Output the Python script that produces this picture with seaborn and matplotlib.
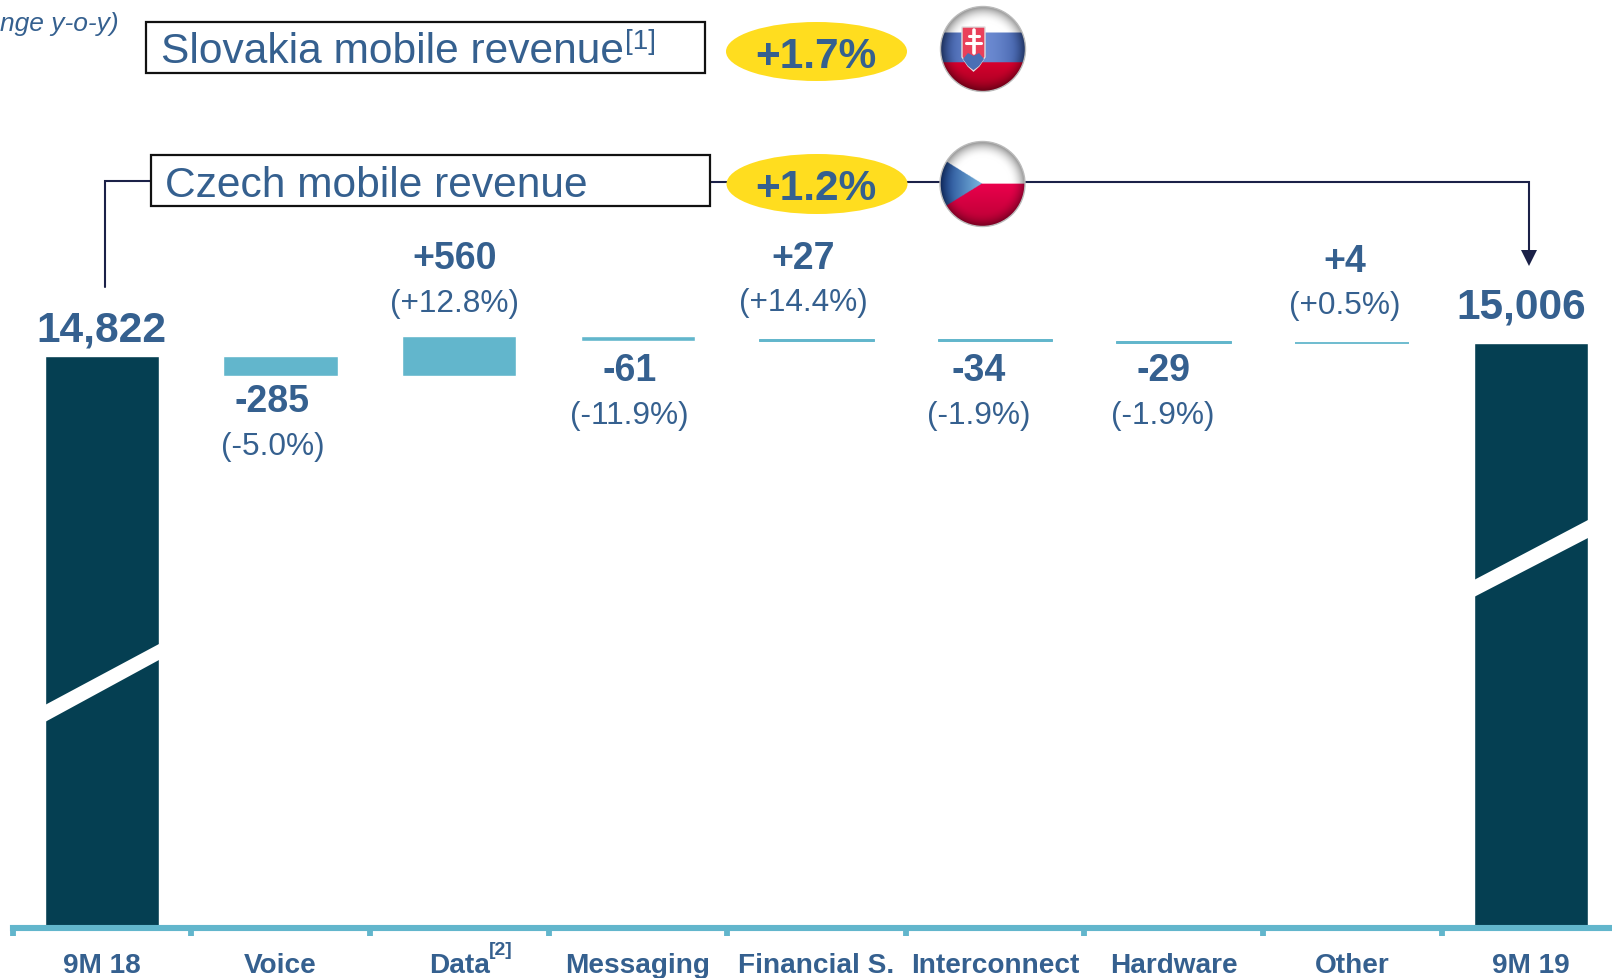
import numpy as np
import pandas as pd
import seaborn as sns
import matplotlib.pyplot as plt
from matplotlib.patches import Circle, Ellipse, Polygon, Rectangle

# data
categories = ["9M 18", "Voice", "Data", "Messaging", "Financial S.", "Interconnect", "Hardware", "Other", "9M 19"]
start_total = 14822
end_total = 15006
deltas = [-285, 560, -61, 27, -34, -29, 4]
delta_pct = ["(-5.0%)", "(+12.8%)", "(-11.9%)", "(+14.4%)", "(-1.9%)", "(-1.9%)", "(+0.5%)"]
delta_text = ["-285", "+560", "-61", "+27", "-34", "-29", "+4"]
# label centres in pixels: (value x, value y, pct y)
delta_pos = [(272.5, 399, 444), (454.5, 256, 301), (629.5, 368, 413), (803, 256, 300),
             (979, 368, 413), (1163, 368, 413), (1345, 259, 303)]

DARK = "#053F52"
LIGHT = "#62B6CC"
TXT = "#35608F"
NAVY = "#1B2148"
YELLOW = "#FFDD1F"

# waterfall table
bottoms, heights = [0], [start_total]
level = start_total
for d in deltas:
    bottoms.append(min(level, level + d))
    heights.append(abs(d))
    level += d
bottoms.append(0)
heights.append(end_total)
df = pd.DataFrame({"cat": categories, "h": heights, "b": bottoms})
bar_colors = [DARK] + [LIGHT] * 7 + [DARK]

sns.set_theme(style="white")
plt.rcParams["font.family"] = ["Liberation Sans", "DejaVu Sans"]

W, H = 1612, 979
base_px = 929
fig = plt.figure(figsize=(W / 100, H / 100), dpi=100)
ax = fig.add_axes([12.7 / W, 1 - base_px / H, (W - 12.7) / W, base_px / H])
sns.barplot(data=df, x="cat", y="h", bottom=df["b"], color=LIGHT, width=0.64, saturation=1, ax=ax)
for bar, c, h in zip(ax.patches, bar_colors, heights):
    bar.set_facecolor(c)
    if h < 40:
        # the smallest deltas would fade out, keep them as solid hairlines
        bar.set_edgecolor(c)
        bar.set_linewidth(1.3 if h < 10 else 0.7)

# broken value axis: 14 units per pixel, bar top of 14,822 at y=357
ax.set_ylim(start_total - (base_px - 357) * 14, start_total + 357 * 14)
ax.set_xlim(-0.5, (W - 12.7) / 178.6 - 0.5)
ax.set_yticks([])
ax.set_xlabel("")
ax.set_ylabel("")
sns.despine(ax=ax, left=True)
ax.spines["bottom"].set_color(LIGHT)
ax.spines["bottom"].set_linewidth(4.4)
ax.spines["bottom"].set_zorder(5)
ax.set_xticks(range(len(categories)))
ax.set_xticklabels(categories, fontsize=20.2, fontweight="bold", color=TXT)
ax.tick_params(axis="x", which="major", length=0, pad=17)
ax.set_xticks(np.arange(9) - 0.5, minor=True)
ax.tick_params(axis="x", which="minor", bottom=True, length=5.8, width=4.2, color=LIGHT, direction="out")

# overlay in pixel coordinates for the annotations
ov = fig.add_axes([0, 0, 1, 1], facecolor="none")
ov.set_xlim(0, W)
ov.set_ylim(H, 0)
ov.axis("off")


def txt(x, y, s, size, bold=False, color=TXT, ha="center", style="normal", z=6):
    ov.text(x, y + 3, s, fontsize=size, fontweight="bold" if bold else "normal", color=color,
            ha=ha, va="center", fontstyle=style, zorder=z)


# white break bands on the total bars
ov.add_patch(Polygon([(45, 706), (159, 645), (159, 661), (45, 723)], fc="white", ec="none", zorder=3))
ov.add_patch(Polygon([(1474, 581), (1588, 521), (1588, 539), (1474, 598)], fc="white", ec="none", zorder=3))

txt(101, 328, "14,822", 30.6, True)
txt(1521, 305, "15,006", 30.6, True)
for (x, y1, y2), v, p in zip(delta_pos, delta_text, delta_pct):
    txt(x, y1, v, 27, True)
    txt(x, y2, p, 22.8)
ov.text(500.5, 951, "[2]", fontsize=14, fontweight="bold", color=TXT, ha="center", va="center")

# connector and arrow
ov.plot([105, 105, 150], [288, 182, 182], color=NAVY, lw=1.5, zorder=1, solid_joinstyle="miter")
ov.plot([700, 1529, 1529], [183, 183, 255], color=NAVY, lw=1.5, zorder=1, solid_joinstyle="miter")
ov.add_patch(Polygon([(1521, 251), (1537, 251), (1529, 267)], fc=NAVY, ec="none", zorder=2))

# boxes, ovals and their text
ov.add_patch(Rectangle((145.5, 22.5), 559, 51, fc="white", ec="#111111", lw=1.6, zorder=3))
ov.add_patch(Rectangle((150.5, 155.5), 559, 51, fc="white", ec="#111111", lw=1.6, zorder=3))
txt(161, 49, "Slovakia mobile revenue", 30.6, ha="left")
txt(165, 183, "Czech mobile revenue", 30.6, ha="left")
txt(625, 39, "[1]", 20, ha="left")
ov.add_patch(Ellipse((816.5, 52.5), 181, 59, fc=YELLOW, ec="none", zorder=4))
ov.add_patch(Ellipse((817, 185), 181, 60, fc=YELLOW, ec="none", zorder=4))
txt(816, 54, "+1.7%", 30.5, True)
txt(816, 186, "+1.2%", 30.5, True)
ov.text(0, 23.5, "nge y-o-y)", fontsize=19, color=TXT, ha="left", va="center", fontstyle="italic")


def shade(cx, cy, r, base):
    # darken towards the rim
    yy, xx = np.mgrid[cy - r:cy + r:200j, cx - r:cx + r:200j]
    d = np.hypot(xx - cx, yy - cy) / r
    dark = 1 - 0.4 * np.clip((d - 0.65) / 0.35, 0, 1) ** 2
    img = base(xx, yy) * dark[..., None]
    return np.clip(img, 0, 1)


def slovak(xx, yy):
    out = np.zeros(xx.shape + (3,))
    out[yy < 33] = (1, 1, 1)
    t = ((xx - 940) / 86)[..., None]
    blue = np.array((0.20, 0.32, 0.60)) + np.sin(np.clip(t, 0, 1) * np.pi) * np.array((0.22, 0.22, 0.22))
    out[(yy >= 33) & (yy < 63)] = blue[(yy >= 33) & (yy < 63)]
    red = np.array((0.84, 0.0, 0.18)) - np.clip((yy[..., None] - 63) / 29, 0, 1) * np.array((0.2, 0, 0.05))
    out[yy >= 63] = red[yy >= 63]
    return out


def czech(xx, yy):
    out = np.zeros(xx.shape + (3,))
    out[yy < 184] = (1, 1, 1)
    red = np.array((0.92, 0.0, 0.30)) - np.clip((yy[..., None] - 184) / 43, 0, 1) * np.array((0.2, 0, 0.1))
    out[yy >= 184] = red[yy >= 184]
    tri = (xx < 982) & (np.abs(yy - 184) < (982 - xx) * 0.62)
    t = np.clip((xx[..., None] - 940) / 42, 0, 1)
    blue = np.array((0.10, 0.25, 0.55)) + t * np.array((0.38, 0.47, 0.33))
    out[tri] = blue[tri]
    return out


for cx, cy, fn in [(983, 50, slovak), (982.5, 185, czech)]:
    r = 42.5
    im = ov.imshow(shade(cx, cy, r, fn), extent=(cx - r, cx + r, cy + r, cy - r), aspect="auto", zorder=5)
    clip = Circle((cx, cy), r, transform=ov.transData)
    im.set_clip_path(clip)
    ov.add_patch(Circle((cx, cy), r, fc="none", ec="#BBBBBB", lw=1.0, zorder=6))

# Slovak shield
ov.add_patch(Polygon([(962, 28), (985, 28), (985, 58), (979, 67), (973.5, 72), (968, 67), (962, 58)],
                     fc="#E9405A", ec="#DDDDDD", lw=1, zorder=7))
ov.add_patch(Polygon([(963, 60), (968, 54), (973.5, 57), (979, 54), (984, 60), (979, 67), (973.5, 71), (968, 67)],
                     fc="#4A6FB5", ec="none", zorder=7))
ov.plot([973.5, 973.5], [31, 54], color="white", lw=2.6, zorder=8)
ov.plot([968.5, 978.5], [37, 37], color="white", lw=2.2, zorder=8)
ov.plot([966, 981], [44, 44], color="white", lw=2.2, zorder=8)

ov.set_xlim(0, W)
ov.set_ylim(H, 0)

fig.savefig("out.png", dpi=100)
